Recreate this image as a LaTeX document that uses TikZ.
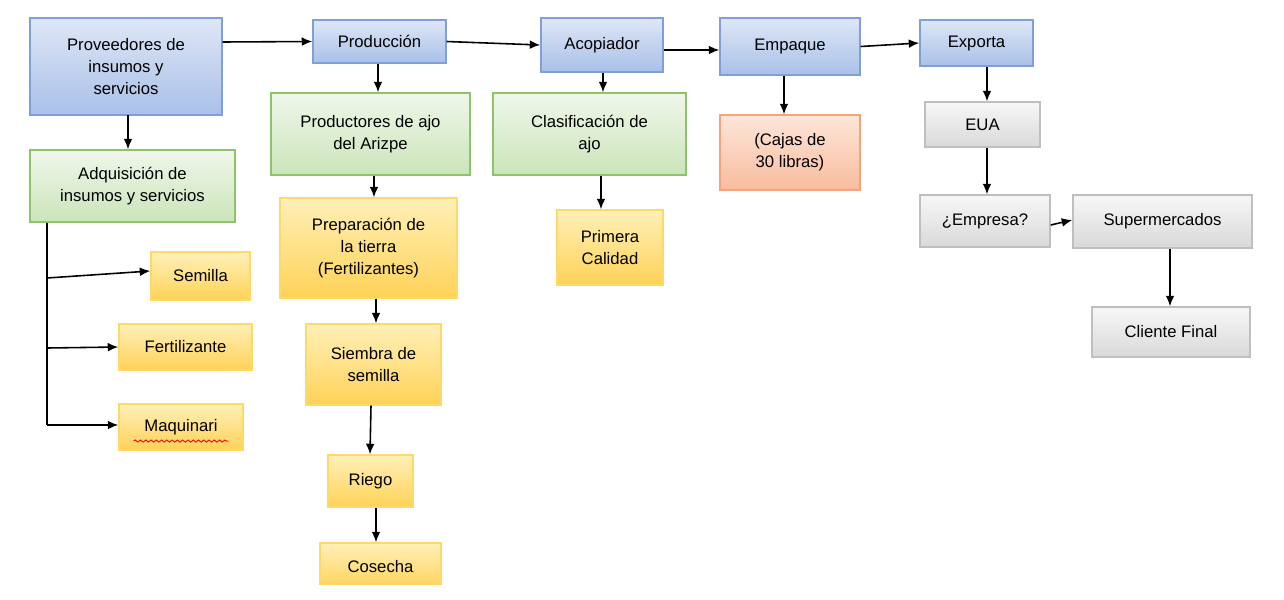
\documentclass[tikz,border=0pt]{standalone}
\usepackage{fontspec}
\setmainfont{Liberation Sans}
\usetikzlibrary{arrows.meta,decorations.pathmorphing}
\definecolor{bB}{HTML}{7F9FD6}\definecolor{bT}{HTML}{DEE7F6}\definecolor{bD}{HTML}{A9C0E8}
\definecolor{gB}{HTML}{8CC46A}\definecolor{gT}{HTML}{F0F7EA}\definecolor{gD}{HTML}{CBE4BA}
\definecolor{yB}{HTML}{FFD966}\definecolor{yT}{HTML}{FFF0B8}\definecolor{yD}{HTML}{FFD257}
\definecolor{oB}{HTML}{F4A47C}\definecolor{oT}{HTML}{FDE6D9}\definecolor{oD}{HTML}{F8BC9E}
\definecolor{aB}{HTML}{BFBFBF}\definecolor{aT}{HTML}{F7F7F7}\definecolor{aD}{HTML}{D9D9D9}
\tikzset{
 box/.style={draw,line width=0.8pt,align=center,inner sep=1pt,font=\fontsize{9.5}{12.5}\selectfont},
 blue/.style={box,draw=bB,top color=bT,bottom color=bD},
 green/.style={box,draw=gB,top color=gT,bottom color=gD},
 yel/.style={box,draw=yB,top color=yT,bottom color=yD},
 ora/.style={box,draw=oB,top color=oT,bottom color=oD},
 gry/.style={box,draw=aB,top color=aT,bottom color=aD},
 arr/.style={-{Latex[length=6pt,width=5pt]},line width=0.9pt}
}
\newcommand{\mybox}[7]{%
 \pgfmathsetmacro{\cx}{(#3+#5)/2}\pgfmathsetmacro{\cy}{(#4+#6)/2}%
 \pgfmathsetmacro{\ww}{(#5-#3)*0.02}\pgfmathsetmacro{\hh}{(#6-#4)*0.02}%
 \node[#2,minimum width=\ww cm,minimum height=\hh cm] (#1) at (\cx,\cy) {#7};}
\begin{document}
\begin{tikzpicture}[x=0.02cm,y=-0.02cm]
\useasboundingbox (0,0) rectangle (1284,599);
\mybox{prov}{blue}{30}{18}{222}{115}{Proveedores de\\insumos y\\servicios}
\mybox{prod}{blue}{313}{20}{446}{63}{Producción}
\mybox{acop}{blue}{541}{18}{663}{72}{Acopiador}
\mybox{emp}{blue}{720}{18}{860}{75}{Empaque}
\mybox{exp}{blue}{920}{20}{1033}{66}{Exporta}
\mybox{adq}{green}{30}{150}{235}{222}{Adquisición de\\insumos y servicios}
\mybox{pdr}{green}{271}{93}{470}{175}{Productores de ajo\\del Arizpe}
\mybox{cla}{green}{493}{93}{686}{175}{Clasificación de\\ajo}
\mybox{caj}{ora}{720}{115}{860}{190}{(Cajas de\\30 libras)}
\mybox{eua}{gry}{925}{102}{1040}{147}{EUA}
\mybox{empr}{gry}{920}{195}{1050}{247}{¿Empresa?}
\mybox{sup}{gry}{1073}{195}{1252}{248}{Supermercados}
\mybox{cli}{gry}{1092}{307}{1250}{357}{Cliente Final}
\mybox{pre}{yel}{280}{198}{457}{298}{Preparación de\\la tierra\\(Fertilizantes)}
\mybox{pri}{yel}{557}{210}{663}{285}{Primera\\Calidad}
\mybox{sie}{yel}{306}{324}{441}{405}{Siembra de\\semilla}
\mybox{rie}{yel}{328}{455}{413}{507}{Riego}
\mybox{cos}{yel}{320}{543}{441}{590}{Cosecha}
\mybox{sem}{yel}{151}{252}{250}{300}{Semilla}
\mybox{fer}{yel}{119}{324}{252}{370}{Fertilizante}
\mybox{maq}{yel}{119}{404}{243}{450}{Maquinari}
\draw[red,line width=0.5pt,decorate,decoration={snake,amplitude=0.6pt,segment length=3pt}] ([xshift=-27pt,yshift=-8pt]maq.center) -- ([xshift=27pt,yshift=-8pt]maq.center);
\fill[white] (300,585) rectangle (460,599);
\draw[arr] (prov.east |- 0,42) -- (prod.west);
\draw[arr] (prod.east) -- (acop.west);
\draw[arr] (acop.east |- 0,50) -- (emp.west |- 0,50);
\draw[arr] (emp.east) -- (exp.west);
\draw[arr] (128,115) -- (adq.north -| 128,0);
\draw[arr] (prod.south -| 378,0) -- (pdr.north -| 378,0);
\draw[arr] (acop.south -| 603,0) -- (cla.north -| 603,0);
\draw[arr] (emp.south -| 784,0) -- (caj.north -| 784,0);
\draw[arr] (exp.south -| 987,0) -- (eua.north -| 987,0);
\draw[arr] (pdr.south -| 374,0) -- (pre.north -| 374,0);
\draw[arr] (cla.south -| 601,0) -- (pri.north -| 601,0);
\draw[arr] (eua.south -| 987,0) -- (empr.north -| 987,0);
\draw[arr] (empr.east |- 0,225) -- (sup.west |- 0,220);
\draw[arr] (sup.south -| 1170,0) -- (cli.north -| 1170,0);
\draw[arr] (pre.south -| 376,0) -- (sie.north -| 376,0);
\draw[arr] (sie.south -| 371,0) -- (rie.north -| 370,0);
\draw[arr] (rie.south -| 376,0) -- (cos.north -| 376,0);
\draw[line width=0.9pt] (adq.south -| 47,0) -- (47,425);
\draw[arr] (47,278) -- (sem.west |- 0,271);
\draw[arr] (47,348) -- (fer.west);
\draw[arr] (47,425) -- (maq.west |- 0,425);
\end{tikzpicture}
\end{document}
